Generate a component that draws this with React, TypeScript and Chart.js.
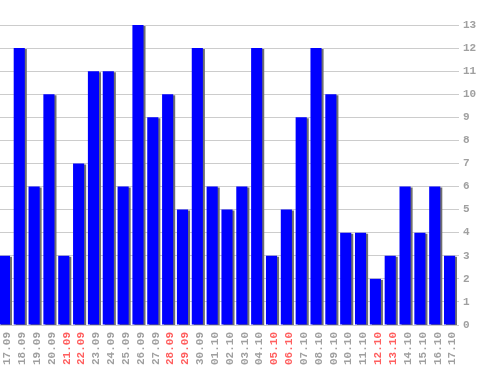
import React, { useEffect, useRef } from "react";
import { Chart, registerables } from "chart.js";

Chart.register(...registerables);

const labels = [
  "17.09", "18.09", "19.09", "20.09", "21.09", "22.09", "23.09", "24.09", "25.09", "26.09",
  "27.09", "28.09", "29.09", "30.09", "01.10", "02.10", "03.10", "04.10", "05.10", "06.10",
  "07.10", "08.10", "09.10", "10.10", "11.10", "12.10", "13.10", "14.10", "15.10", "16.10", "17.10",
];
const values = [3, 12, 6, 10, 3, 7, 11, 11, 6, 13, 9, 10, 5, 12, 6, 5, 6, 12, 3, 5, 9, 12, 10, 4, 4, 2, 3, 6, 4, 6, 3];
const weekendLabels = ["21.09", "22.09", "28.09", "29.09", "05.10", "06.10", "12.10", "13.10"];

const FAMILY = "'Liberation Mono', 'Courier New', monospace";
const FONT = { family: FAMILY, size: 11, weight: "bold" as const };

const shadowPlugin = {
  id: "barShadow",
  beforeDatasetsDraw(chart: any) {
    const ctx = chart.ctx;
    ctx.save();
    ctx.shadowColor = "#707070";
    ctx.shadowOffsetX = 2;
    ctx.shadowOffsetY = 1;
    ctx.shadowBlur = 0;
  },
  afterDatasetsDraw(chart: any) {
    chart.ctx.restore();
  },
};

export default function App() {
  const ref = useRef<HTMLCanvasElement>(null);
  useEffect(() => {
    if (!ref.current) return;
    let chart: Chart | null = null;
    let cancelled = false;
    const make = () => {
      if (cancelled || !ref.current) return;
      chart = new Chart(ref.current, {
        type: "bar",
        data: {
          labels,
          datasets: [
            {
              data: values,
              backgroundColor: "#0000ff",
              borderWidth: 0,
              barPercentage: 0.75,
              categoryPercentage: 1,
            },
          ],
        },
        options: {
          responsive: false,
          animation: false,
          layout: { padding: { top: 25, left: 0, right: 0, bottom: 0 } },
          plugins: { legend: { display: false }, tooltip: { enabled: false } },
          scales: {
            x: {
              grid: { display: false, drawTicks: false },
              border: { display: false },
              afterFit: (s: any) => {
                s.height = 45;
              },
              ticks: {
                minRotation: 90,
                maxRotation: 90,
                autoSkip: false,
                padding: 7,
                labelOffset: 3,
                font: FONT,
                color: (c: any) => (weekendLabels.includes(labels[c.index]) ? "#ff5f5f" : "#a0a0a0"),
              },
            },
            y: {
              position: "right",
              min: 0,
              max: 13,
              border: { display: false },
              grid: { color: "#cccccc", lineWidth: 1, drawTicks: true, tickLength: 2 },
              afterFit: (s: any) => {
                s.width = 41;
              },
              ticks: { stepSize: 1, padding: 4, font: FONT, color: "#a0a0a0" },
            },
          },
        },
        plugins: [shadowPlugin],
      });
    };
    const fonts = (document as any).fonts;
    if (fonts && fonts.load) {
      fonts.load("bold 11px 'Liberation Mono'").then(make, make);
    } else {
      make();
    }
    return () => {
      cancelled = true;
      if (chart) chart.destroy();
    };
  }, []);
  return (
    <div style={{ position: "fixed", left: -3, top: 0, width: 501, height: 370 }}>
      <canvas ref={ref} width={501} height={370} style={{ display: "block" }} />
    </div>
  );
}
